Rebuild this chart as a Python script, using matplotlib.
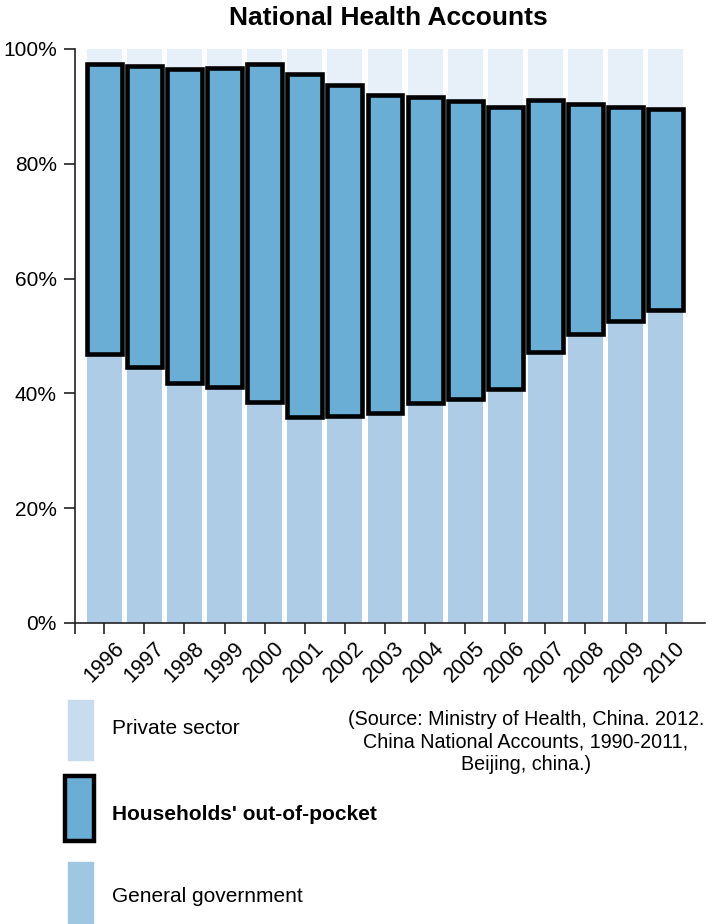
import matplotlib
matplotlib.use("Agg")
import matplotlib.pyplot as plt
from matplotlib.patches import Rectangle
from matplotlib.transforms import ScaledTranslation
import numpy as np

plt.rcParams['font.family'] = ['Liberation Sans', 'DejaVu Sans']

years = ['1996', '1997', '1998', '1999', '2000', '2001', '2002', '2003',
         '2004', '2005', '2006', '2007', '2008', '2009', '2010']
# shares of total health expenditure, %
general_government = [46.9, 44.6, 41.8, 41.1, 38.5, 35.9, 36.1, 36.6,
                      38.4, 39.0, 40.8, 47.2, 50.4, 52.7, 54.5]
households_oop = [50.4, 52.4, 54.8, 55.6, 58.9, 59.7, 57.6, 55.4,
                  53.2, 52.0, 49.1, 43.9, 40.1, 37.2, 35.1]
private_sector = [round(100 - g - h, 1) for g, h in zip(general_government, households_oop)]
y_ticks = [0, 20, 40, 60, 80, 100]
y_tick_labels = ['0%', '20%', '40%', '60%', '80%', '100%']

c_private = '#e7eff8'
c_gov = '#aecce6'
c_hh = '#6aaed6'
c_private_key = '#c8dcef'
c_gov_key = '#9fc7e1'

W, H = 709, 924
fig = plt.figure(figsize=(W / 100, H / 100), dpi=100)
ax = fig.add_axes([75 / W, (H - 623) / H, 630 / W, 574 / H])

x = np.arange(len(years))
bw = 0.87
top = np.array(general_government) + np.array(households_oop)
ax.bar(x, np.array(private_sector), bottom=top, width=bw, color=c_private, linewidth=0)
ax.bar(x, general_government, width=bw, color=c_gov, linewidth=0)
ax.bar(x, households_oop, bottom=general_government, width=bw, color=c_hh,
       edgecolor='black', linewidth=3.3, zorder=3)

ax.set_xlim(-0.73, 14.98)
ax.set_ylim(0, 100)
for s in ['top', 'right']:
    ax.spines[s].set_visible(False)
for s in ['left', 'bottom']:
    ax.spines[s].set_linewidth(1.2)
    ax.spines[s].set_color('#222222')

ax.set_yticks(y_ticks)
ax.set_yticklabels(y_tick_labels, fontsize=15)
ax.set_xticks(x)
ax.set_xticklabels(years, fontsize=15.5, rotation=45, ha='right', rotation_mode='anchor')
ax.set_xticks([-0.73], minor=True)
ax.tick_params(axis='both', which='both', direction='out', length=8, width=1.2,
               color='#222222')
ax.tick_params(axis='y', pad=5)
ax.tick_params(axis='x', which='major', pad=4)
shift = ScaledTranslation(9 / 100, 2 / 100, fig.dpi_scale_trans)
for lbl in ax.get_xticklabels():
    lbl.set_transform(lbl.get_transform() + shift)

fig.text(388 / W, 1 - 18 / H, 'National Health Accounts', ha='center', va='center',
         fontsize=19, fontweight='bold')

# key
fig.patches.append(Rectangle((67.5 / W, 1 - 760 / H), 25 / W, 60 / H,
                             transform=fig.transFigure, color=c_private_key))
fig.patches.append(Rectangle((65 / W, 1 - 841 / H), 29 / W, 65 / H,
                             transform=fig.transFigure, facecolor=c_hh,
                             edgecolor='black', linewidth=3.2))
fig.patches.append(Rectangle((67.5 / W, 1 - 930 / H), 25 / W, 68 / H,
                             transform=fig.transFigure, color=c_gov_key))
fig.text(112 / W, 1 - 729 / H, 'Private sector', ha='left', va='center', fontsize=15)
fig.text(112 / W, 1 - 814 / H, "Households' out-of-pocket", ha='left', va='center',
         fontsize=15, fontweight='bold')
fig.text(112 / W, 1 - 897 / H, 'General government', ha='left', va='center', fontsize=15)

fig.text(526 / W, 1 - 742 / H,
         '(Source: Ministry of Health, China. 2012.\n'
         'China National Accounts, 1990-2011,\n'
         'Beijing, china.)',
         ha='center', va='center', fontsize=14.2, linespacing=1.24, multialignment='center')

fig.savefig('out.png', dpi=100)
